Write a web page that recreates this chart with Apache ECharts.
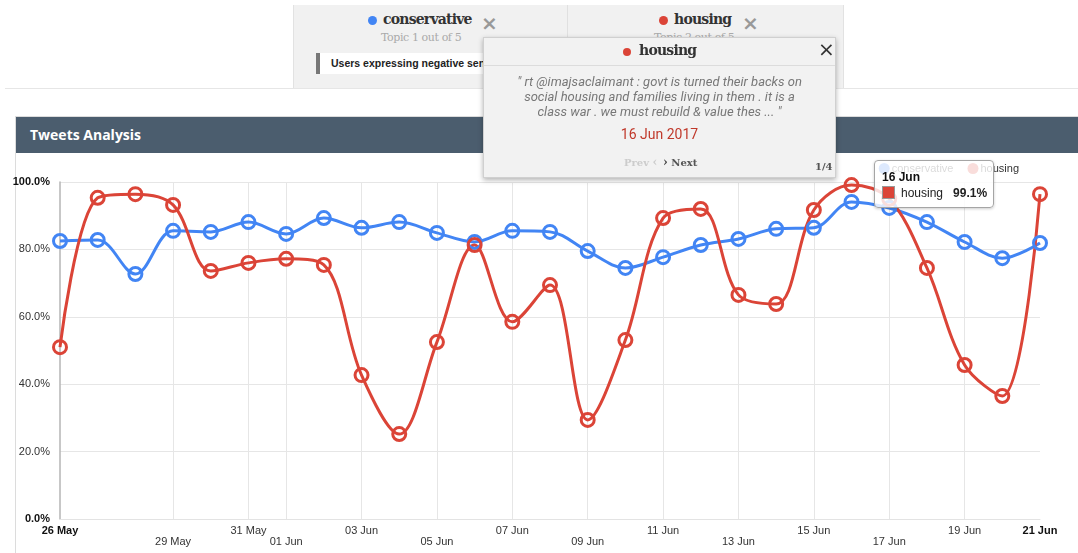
<!DOCTYPE html>
<html>
<head>
<meta charset="utf-8">
<title>Tweets Analysis</title>
<script src="https://cdn.jsdelivr.net/npm/echarts@6/dist/echarts.min.js"></script>
<style>
  body { margin: 0; width: 1078px; height: 553px; overflow: hidden; background: #fff; font-family: Roboto, sans-serif; position: relative; }
  .abs { position: absolute; }
  #topics { left: 293px; top: 5px; width: 549px; height: 83px; background: #f1f1f1; border-left: 1px solid #e2e2e2; border-right: 1px solid #e2e2e2; z-index: 2; }
  .dot { position: absolute; width: 9px; height: 9px; border-radius: 50%; }
  .topic-name { position: absolute; font-weight: 700; font-size: 14px; color: #333; font-family: "DejaVu Serif", serif; letter-spacing: -0.8px; }
  .close-x { position: absolute; color: #999; font-size: 20px; font-weight: 700; font-family: "DejaVu Sans", sans-serif; }
  .topic-sub { position: absolute; font-size: 11px; color: #aaa; font-family: "DejaVu Serif", serif; letter-spacing: -0.4px; }
  #rule { left: 5px; top: 88px; width: 1073px; height: 1px; background: #e6e6e6; }
  #card { left: 15px; top: 116px; width: 1070px; height: 450px; border: 1px solid #dcdcdc; z-index: 0; }
  #cardHead { left: 0; top: 0; right: 0; height: 36px; background: #4b5d6e; color: #fff; font: 700 14px "Open Sans", sans-serif; line-height: 36px; padding-left: 14px; }
  #chart { left: 0; top: 0; width: 1078px; height: 553px; z-index: 1; }
  #popup { left: 483px; top: 37px; width: 351px; height: 139px; background: #f2f2f2; border: 1px solid #d0d0d0; box-shadow: 0 2px 5px rgba(0,0,0,0.3); z-index: 3; }
  #tip { left: 874px; top: 160px; width: 104px; height: 36px; padding: 9px 7px 1px 7px; background: rgba(255,255,255,0.82); border: 1px solid #a5a5a5; border-radius: 4px; box-shadow: 0 1px 3px rgba(0,0,0,0.2); z-index: 2; font-family: "Liberation Sans", Arial, sans-serif; }
</style>
</head>
<body>
<div id="card" class="abs"><div id="cardHead" class="abs">Tweets Analysis</div></div>
<div id="chart" class="abs"></div>
<div id="tip" class="abs"></div>
<div id="rule" class="abs"></div>
<div id="topics" class="abs">
  <div class="abs" style="left:273px;top:0;width:1px;height:83px;background:#e0e0e0"></div>
  <div class="dot" style="left:74px;top:11px;background:#4285f4"></div>
  <div class="topic-name" style="left:89px;top:6px">conservative</div>
  <div class="close-x" style="left:187px;top:6px">×</div>
  <div class="topic-sub" style="left:87px;top:26px">Topic 1 out of 5</div>
  <div class="abs" style="left:22px;top:48px;width:240px;height:21px;background:#fff;border-left:4px solid #777"></div>
  <div class="abs" style="left:37px;top:52px;font:700 10.5px 'Liberation Sans',Arial,sans-serif;color:#222;white-space:nowrap">Users expressing negative sentiment</div>
  <div class="dot" style="left:365px;top:11px;background:#db4437"></div>
  <div class="topic-name" style="left:380px;top:6px">housing</div>
  <div class="close-x" style="left:448px;top:6px">×</div>
  <div class="topic-sub" style="left:360px;top:26px">Topic 2 out of 5</div>
</div>
<div id="popup" class="abs">
  <div class="dot" style="left:139px;top:10px;width:8px;height:8px;background:#db4437"></div>
  <div class="topic-name" style="left:155px;top:4px">housing</div>
  <div class="abs" style="left:334px;top:-1px;font:400 20px 'DejaVu Sans',sans-serif;color:#333">×</div>
  <div class="abs" style="left:0;top:27px;width:351px;height:1px;background:#dcdcdc"></div>
  <div class="abs" style="left:0;top:36px;width:351px;text-align:center;font:italic 400 13px/15px Roboto,sans-serif;color:#777">
    " rt @imajsaclaimant : govt is turned their backs on<br>social housing and families living in them . it is a<br>class war . we must rebuild &amp; value thes ... "
  </div>
  <div class="abs" style="left:0;top:88px;width:351px;text-align:center;font:400 14px Roboto,sans-serif;color:#c0392b">16 Jun 2017</div>
  <div class="abs" style="left:140px;top:117px;font:700 10px 'DejaVu Serif',serif;color:#ccc">Prev <b style="font-size:12px">‹</b></div>
  <div class="abs" style="left:179px;top:117px;font:700 10px 'DejaVu Serif',serif;color:#555"><b style="font-size:12px;color:#444">›</b> Next</div>
  <div class="abs" style="left:331px;top:123px;font:700 10px 'DejaVu Serif',serif;color:#555">1/4</div>
</div>
<script>
const dates = ['26 May', '27 May', '28 May', '29 May', '30 May', '31 May', '01 Jun', '02 Jun', '03 Jun',
  '04 Jun', '05 Jun', '06 Jun', '07 Jun', '08 Jun', '09 Jun', '10 Jun', '11 Jun', '12 Jun', '13 Jun',
  '14 Jun', '15 Jun', '16 Jun', '17 Jun', '18 Jun', '19 Jun', '20 Jun', '21 Jun'];

const conservative = [82.5, 82.8, 72.7, 85.5, 85.2, 88.1, 84.6, 89.3, 86.4, 88.1, 84.9, 82.2, 85.5, 85.2,
  79.5, 74.5, 77.7, 81.3, 83.1, 86.1, 86.4, 94.1, 92.3, 88.1, 82.2, 77.4, 81.9];
const housing = [51.0, 95.3, 96.4, 93.2, 73.6, 76.0, 77.2, 75.4, 42.7, 25.2, 52.5, 81.3, 58.5, 69.4,
  29.4, 53.1, 89.3, 92.0, 66.5, 63.8, 91.7, 99.1, 95.0, 74.5, 45.7, 36.5, 96.4];

// tick labels, two staggered rows like the original
const labelsTop = ['26 May', '31 May', '03 Jun', '07 Jun', '11 Jun', '15 Jun', '19 Jun', '21 Jun'];
const labelsLow = ['29 May', '01 Jun', '05 Jun', '09 Jun', '13 Jun', '17 Jun'];
const labelsBold = ['26 May', '21 Jun'];
const yTicks = [0, 20, 40, 60, 80, 100];

const BLUE = '#4285f4';
const RED = '#db4437';

const chart = echarts.init(document.getElementById('chart'));

function lineSeries(name, data, color) {
  return {
    name: name,
    type: 'line',
    data: data,
    smooth: 0.35,
    symbol: 'circle',
    symbolSize: 13,
    lineStyle: { color: color, width: 3 },
    itemStyle: { color: 'rgba(255,255,255,0)', borderColor: color, borderWidth: 3 },
    emphasis: { disabled: true },
  };
}

chart.setOption({
  animation: false,
  textStyle: { fontFamily: '"Liberation Sans", Arial, sans-serif' },
  grid: { left: 60, right: 38, top: 182, bottom: 34, outerBoundsMode: 'none', containLabel: false },
  legend: {
    right: 54,
    top: 158,
    icon: 'circle',
    itemWidth: 11,
    itemHeight: 11,
    itemGap: 14,
    textStyle: { fontSize: 11, color: '#333', padding: [0, 0, 0, -3] },
    data: [
      { name: 'conservative', itemStyle: { color: BLUE, borderWidth: 0 } },
      { name: 'housing', itemStyle: { color: RED, borderWidth: 0 } },
    ],
  },
  xAxis: {
    type: 'category',
    boundaryGap: false,
    data: dates,
    axisLine: { lineStyle: { color: '#e3e3e3' } },
    axisTick: { show: false },
    axisLabel: {
      interval: (i, v) => labelsTop.includes(v) || labelsLow.includes(v),
      margin: 6,
      color: '#333',
      fontSize: 11,
      formatter: function (v) {
        if (labelsBold.includes(v)) return '{b|' + v + '}';
        if (labelsLow.includes(v)) return '{l|' + v + '}';
        return v;
      },
      rich: {
        b: { fontWeight: 'bold', fontSize: 11, color: '#111' },
        l: { fontSize: 11, color: '#333', padding: [11, 0, 0, 0] },
      },
    },
    splitLine: {
      show: true,
      interval: (i, v) => v !== '26 May' && v !== '21 Jun' && (labelsTop.includes(v) || labelsLow.includes(v)),
      lineStyle: { color: '#e6e6e6', width: 1 },
    },
  },
  yAxis: {
    type: 'value',
    min: yTicks[0],
    max: yTicks[yTicks.length - 1],
    interval: 20,
    axisLine: { show: true, lineStyle: { color: '#b5b5b5', width: 1.5 } },
    axisTick: { show: false },
    axisLabel: {
      margin: 10,
      color: '#333',
      fontSize: 11,
      formatter: function (v) {
        const s = v.toFixed(1) + '%';
        return (v === 0 || v === 100) ? '{b|' + s + '}' : s;
      },
      rich: { b: { fontWeight: 'bold', fontSize: 11, color: '#111' } },
    },
    splitLine: { lineStyle: { color: '#e6e6e6', width: 1 } },
  },
  series: [
    lineSeries('conservative', conservative, BLUE),
    lineSeries('housing', housing, RED),
  ],
});

// hovered point box, as it was frozen in the screenshot
const tipIdx = dates.indexOf('16 Jun');
document.getElementById('tip').innerHTML =
  '<div style="font-weight:700;font-size:12px;color:#111;line-height:14px">' + dates[tipIdx] + '</div>' +
  '<div style="font-size:12px;color:#222;line-height:18px;margin-top:0;white-space:nowrap">' +
  '<span style="display:inline-block;width:11px;height:11px;background:' + RED +
  ';border:1px solid #999;vertical-align:-2px;margin-right:6px"></span>housing&nbsp;&nbsp;&nbsp;<b>' +
  housing[tipIdx].toFixed(1) + '%</b></div>';
</script>
</body>
</html>
